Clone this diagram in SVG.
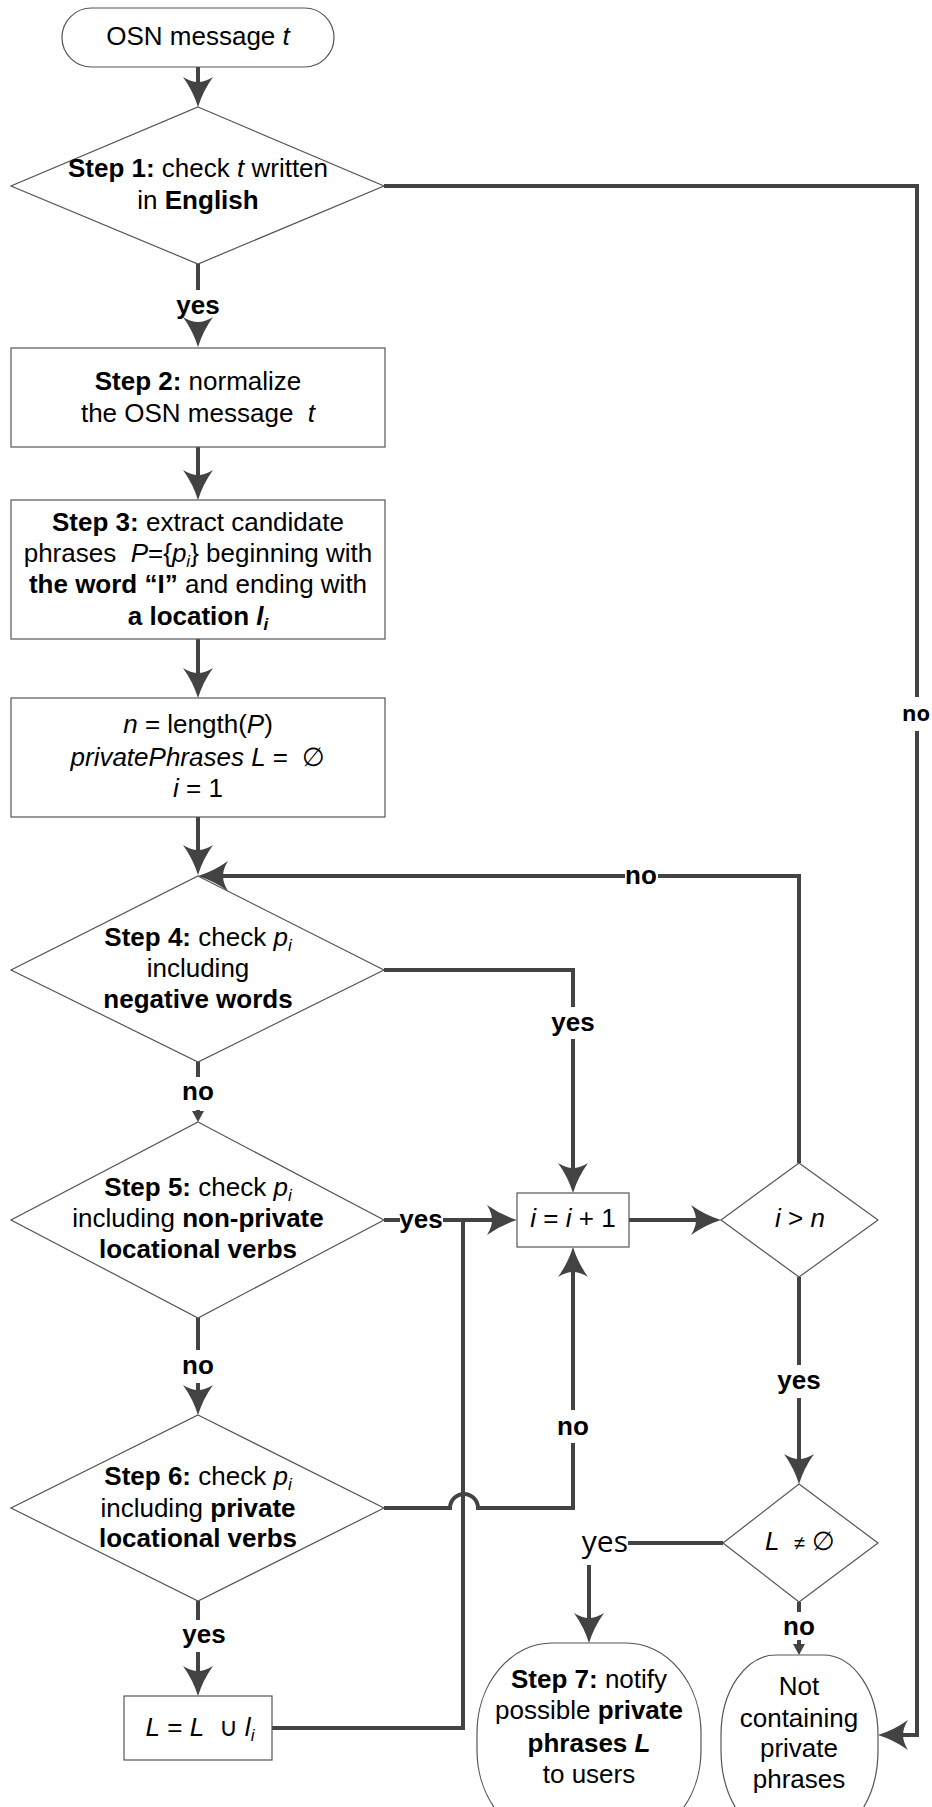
<svg xmlns="http://www.w3.org/2000/svg" width="932" height="1807" viewBox="0 0 932 1807">
  <style>
    .node { fill: #ffffff; stroke: #555555; stroke-width: 1.2; }
    .t { font-family: "Liberation Sans", Arial, sans-serif; font-size: 26px; fill: #000000; text-anchor: middle; }
    .b { font-weight: bold; }
    .i { font-style: italic; }
    .sub { font-size: 17px; }
    .conn path { fill: none; stroke: #434343; stroke-width: 4; }
    .lbl { font-family: "Liberation Sans", Arial, sans-serif; font-size: 26px; font-weight: bold; fill: #000000; text-anchor: middle; }
  </style>
  <defs>
    <!-- large flow arrowhead: tip sits 20px beyond the path end -->
    <marker id="ah" markerUnits="userSpaceOnUse" viewBox="-12 -17 34 34" markerWidth="34" markerHeight="34" refX="0" refY="0" orient="auto" overflow="visible">
      <path d="M20,0 Q4,-5 -10,-15 Q-5,-7 -5,0 Q-5,7 -10,15 Q4,5 20,0 Z" fill="#434343"/>
    </marker>
    <!-- small arrowhead used under short labelled drops -->
    <marker id="as" markerUnits="userSpaceOnUse" viewBox="-7 -7 14 14" markerWidth="14" markerHeight="14" refX="0" refY="0" orient="auto" overflow="visible">
      <path d="M6,0 L-5,-6 L-5,6 Z" fill="#434343"/>
    </marker>
  </defs>

  <rect width="932" height="1807" fill="#ffffff"/>

  <!-- connectors -->
  <g id="connectors" class="conn">
    <path d="M198,67 V87" marker-end="url(#ah)"/>
    <path d="M198,264 V290"/>
    <path d="M198,322 V327" marker-end="url(#ah)"/>
    <path d="M198,447 V480" marker-end="url(#ah)"/>
    <path d="M198,639 V678" marker-end="url(#ah)"/>
    <path d="M198,817 V855" marker-end="url(#ah)"/>
    <!-- loop back when i <= n -->
    <path d="M799,1163 V876 H658"/>
    <path d="M625,876 H218" marker-end="url(#ah)"/>
    <!-- step 4 yes -->
    <path d="M384,970 H573 V1007"/>
    <path d="M573,1039 V1173" marker-end="url(#ah)"/>
    <!-- step 4 no -->
    <path d="M198,1062 V1077"/>
    <path d="M198,1110 V1116" marker-end="url(#as)"/>
    <!-- step 5 yes -->
    <path d="M384,1220 H400"/>
    <path d="M443,1220 H497" marker-end="url(#ah)"/>
    <!-- increment to test -->
    <path d="M629,1220 H701" marker-end="url(#ah)"/>
    <!-- i > n yes -->
    <path d="M799,1277 V1365"/>
    <path d="M799,1398 V1464" marker-end="url(#ah)"/>
    <!-- step 5 no -->
    <path d="M198,1318 V1350"/>
    <path d="M198,1383 V1395" marker-end="url(#ah)"/>
    <!-- step 6 no, hopping over the return line -->
    <path d="M384,1508 H450 A14,14 0 0 1 478,1508 H573 V1443"/>
    <path d="M573,1410 V1267" marker-end="url(#ah)"/>
    <!-- step 6 yes -->
    <path d="M198,1601 V1620"/>
    <path d="M198,1652 V1676" marker-end="url(#ah)"/>
    <!-- union result back to the increment -->
    <path d="M272,1728 H463 V1220"/>
    <!-- L not empty: yes -->
    <path d="M723,1543 H628"/>
    <path d="M589,1565 V1623" marker-end="url(#ah)"/>
    <!-- L not empty: no -->
    <path d="M799,1602 V1612"/>
    <path d="M799,1640 V1649" marker-end="url(#as)"/>
    <!-- step 1 no -->
    <path d="M384,186 H917 V697"/>
    <path d="M917,731 V1735 H898" marker-end="url(#ah)"/>

    <text class="lbl" x="198" y="314">yes</text>
    <text x="916" y="721" style="font-family:'Open Sans','Liberation Sans',sans-serif;font-size:22px;font-weight:bold;text-anchor:middle">no</text>
    <text class="lbl" x="641" y="884">no</text>
    <text class="lbl" x="573" y="1031">yes</text>
    <text class="lbl" x="198" y="1100">no</text>
    <text class="lbl" x="421" y="1228">yes</text>
    <text class="lbl" x="198" y="1374">no</text>
    <text class="lbl" x="573" y="1435">no</text>
    <text class="lbl" x="204" y="1643">yes</text>
    <text class="lbl" x="799" y="1389">yes</text>
    <text x="628" y="1552" style="font-family:'Open Sans','Liberation Sans',sans-serif;font-size:30px;text-anchor:end">yes</text>
    <text class="lbl" x="799" y="1635">no</text>
  </g>

  <g id="start">
    <rect class="node" x="62" y="8" width="272" height="59" rx="29.5"/>
    <text class="t" x="198" y="45">OSN message <tspan class="i">t</tspan></text>
  </g>

  <g id="step1">
    <polygon class="node" points="198,107 384,186 198,264 11,186"/>
    <text class="t" x="198" y="177"><tspan class="b">Step 1:</tspan> check <tspan class="i">t</tspan> written</text>
    <text class="t" x="198" y="209">in <tspan class="b">English</tspan></text>
  </g>

  <g id="step2">
    <rect class="node" x="11" y="348" width="374" height="99"/>
    <text class="t" x="198" y="390"><tspan class="b">Step 2:</tspan> normalize</text>
    <text class="t" x="198" y="422">the OSN message&#160; <tspan class="i">t</tspan></text>
  </g>

  <g id="step3">
    <rect class="node" x="11" y="500" width="374" height="139"/>
    <text class="t" x="198" y="531"><tspan class="b">Step 3:</tspan> extract candidate</text>
    <text class="t" x="198" y="562">phrases&#160; <tspan class="i">P</tspan>={<tspan class="i">p</tspan><tspan class="i sub" dy="5">i</tspan><tspan dy="-5">}</tspan> beginning with</text>
    <text class="t" x="198" y="593"><tspan class="b">the word “I”</tspan> and ending with</text>
    <text class="t" x="198" y="625"><tspan class="b">a location </tspan><tspan class="b i">l</tspan><tspan class="b i sub" dy="5">i</tspan></text>
  </g>

  <g id="init">
    <rect class="node" x="11" y="698" width="374" height="119"/>
    <text class="t" x="198" y="733"><tspan class="i">n</tspan> = length(<tspan class="i">P</tspan>)</text>
    <text class="t" x="198" y="766"><tspan class="i">privatePhrases L</tspan> = &#160;∅</text>
    <text class="t" x="198" y="797"><tspan class="i">i</tspan> = 1</text>
  </g>

  <g id="step4">
    <polygon class="node" points="198,876 384,970 198,1062 11,970"/>
    <text class="t" x="198" y="946"><tspan class="b">Step 4:</tspan> check <tspan class="i">p</tspan><tspan class="i sub" dy="5">i</tspan></text>
    <text class="t" x="198" y="977">including</text>
    <text class="t" x="198" y="1008"><tspan class="b">negative words</tspan></text>
  </g>

  <g id="step5">
    <polygon class="node" points="198,1122 384,1220 198,1318 11,1220"/>
    <text class="t" x="198" y="1196"><tspan class="b">Step 5:</tspan> check <tspan class="i">p</tspan><tspan class="i sub" dy="5">i</tspan></text>
    <text class="t" x="198" y="1227">including <tspan class="b">non-private</tspan></text>
    <text class="t" x="198" y="1258"><tspan class="b">locational verbs</tspan></text>
  </g>

  <g id="step6">
    <polygon class="node" points="198,1415 384,1508 198,1601 11,1508"/>
    <text class="t" x="198" y="1485"><tspan class="b">Step 6:</tspan> check <tspan class="i">p</tspan><tspan class="i sub" dy="5">i</tspan></text>
    <text class="t" x="198" y="1517">including <tspan class="b">private</tspan></text>
    <text class="t" x="198" y="1547"><tspan class="b">locational verbs</tspan></text>
  </g>

  <g id="union">
    <rect class="node" x="124" y="1696" width="148" height="64"/>
    <text class="t" x="200" y="1736"><tspan class="i">L</tspan> = <tspan class="i">L</tspan>&#160; ∪ <tspan class="i">l</tspan><tspan class="i sub" dy="5">i</tspan></text>
  </g>

  <g id="increment">
    <rect class="node" x="517" y="1193" width="112" height="54"/>
    <text class="t" x="573" y="1227"><tspan class="i">i</tspan> = <tspan class="i">i</tspan> + 1</text>
  </g>

  <g id="test-end">
    <polygon class="node" points="799,1163 878,1220 799,1277 721,1220"/>
    <text class="t" x="800" y="1227"><tspan class="i">i</tspan> &gt; <tspan class="i">n</tspan></text>
  </g>

  <g id="test-empty">
    <polygon class="node" points="799,1484 878,1543 799,1602 723,1543"/>
    <text class="t" x="800" y="1550"><tspan class="i">L</tspan>&#160; <tspan font-size="20">≠</tspan> ∅</text>
  </g>

  <g id="step7">
    <path class="node" d="M552,1643 H626 A75,90 0 0 1 701,1733 V1750 A75,90 0 0 1 626,1840 H552 A75,90 0 0 1 477,1750 V1733 A75,90 0 0 1 552,1643 Z"/>
    <text class="t" x="589" y="1688"><tspan class="b">Step 7:</tspan> notify</text>
    <text class="t" x="589" y="1719">possible <tspan class="b">private</tspan></text>
    <text class="t" x="589" y="1752"><tspan class="b">phrases <tspan class="i">L</tspan></tspan></text>
    <text class="t" x="589" y="1783">to users</text>
  </g>

  <g id="no-private">
    <path class="node" d="M776,1655 H823 A55,80 0 0 1 878,1735 V1750 A55,85 0 0 1 823,1835 H776 A55,85 0 0 1 721,1750 V1735 A55,80 0 0 1 776,1655 Z"/>
    <text class="t" x="799" y="1695">Not</text>
    <text class="t" x="799" y="1727">containing</text>
    <text class="t" x="799" y="1757">private</text>
    <text class="t" x="799" y="1788">phrases</text>
  </g>
</svg>
